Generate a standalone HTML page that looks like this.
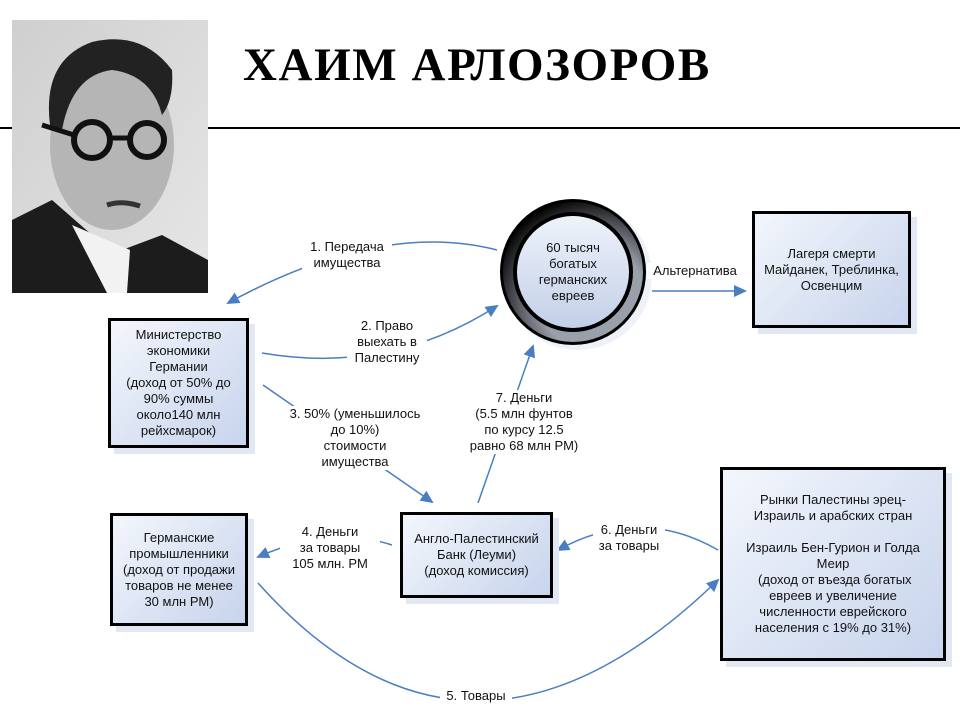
<!DOCTYPE html>
<html><head><meta charset="utf-8"><style>
body{margin:0;width:960px;height:720px;background:#fff;position:relative;overflow:hidden;font-family:"Liberation Sans",Arial,sans-serif;}
.t{position:absolute;font-size:13px;line-height:16px;text-align:center;color:#111;background:#fff;}
.box{position:absolute;border:3px solid #000;background:linear-gradient(135deg,#f3f6fc 0%,#c7d4ec 100%);box-shadow:6px 6px 0 #e1e8f3;display:flex;align-items:center;justify-content:center;text-align:center;font-size:13px;line-height:16px;color:#111;box-sizing:border-box;}
h1{position:absolute;left:243px;top:38px;margin:0;font-family:"Liberation Serif",serif;font-weight:bold;font-size:47px;letter-spacing:1.6px;}
</style></head><body>
<div style="position:absolute;left:0;top:127px;width:960px;height:2px;background:#000"></div>
<svg style="position:absolute;left:12px;top:20px" width="196" height="273" viewBox="0 0 196 273">
<defs><linearGradient id="bg" x1="0" y1="0" x2="1" y2="1"><stop offset="0" stop-color="#cfcfcf"/><stop offset="1" stop-color="#e6e6e6"/></linearGradient></defs>
<rect width="196" height="273" fill="url(#bg)"/>
<path d="M0,200 L40,180 L80,215 L110,230 L150,215 L196,240 L196,273 L0,273Z" fill="#1c1c1c"/>
<path d="M60,205 L95,273 L115,273 L118,230Z" fill="#f2f2f2"/>
<ellipse cx="100" cy="125" rx="62" ry="85" fill="#b5b5b5"/>
<path d="M38,105 Q30,40 80,22 Q130,10 160,50 Q162,80 150,95 Q140,55 100,50 Q60,55 50,110Z" fill="#222"/>
<circle cx="80" cy="120" r="18" fill="none" stroke="#111" stroke-width="6"/>
<circle cx="135" cy="120" r="17" fill="none" stroke="#111" stroke-width="6"/>
<path d="M97,118 L118,118 M62,115 L30,105" stroke="#111" stroke-width="5"/>
<path d="M95,185 Q110,180 128,186" stroke="#333" stroke-width="5" fill="none"/>
</svg>
<h1>ХАИМ АРЛОЗОРОВ</h1>
<svg style="position:absolute;left:0;top:0" width="960" height="720">
<defs>
<marker id="a" markerWidth="13" markerHeight="12" refX="11" refY="6" orient="auto" markerUnits="userSpaceOnUse" viewBox="0 0 13 12"><path d="M0,0 L13,6 L0,12Z" fill="#4a7ec2"/></marker>
<radialGradient id="ring" cx="0.65" cy="0.7" r="0.75"><stop offset="0.5" stop-color="#9aa0aa"/><stop offset="1" stop-color="#000"/></radialGradient>
<linearGradient id="inner" x1="0" y1="0" x2="0" y2="1"><stop offset="0" stop-color="#eef2fa"/><stop offset="1" stop-color="#c3d0e8"/></linearGradient>
</defs>
<g stroke="#4a7ec2" stroke-width="1.5" fill="none">
<path d="M497,250 Q380,220 228,303" marker-end="url(#a)"/>
<path d="M262,353 Q390,375 497,306" marker-end="url(#a)"/>
<path d="M263,385 L432,502" marker-end="url(#a)"/>
<path d="M478,503 L533,346" marker-end="url(#a)"/>
<path d="M652,291 L745,291" marker-end="url(#a)"/>
<path d="M392,545 Q330,525 258,557" marker-end="url(#a)"/>
<path d="M718,550 Q640,505 558,550" marker-end="url(#a)"/>
<path d="M258,583 Q470,820 718,580" marker-end="url(#a)"/>
</g>
<circle cx="578" cy="276" r="74" fill="#eef2f8"/>
<circle cx="573" cy="272" r="73" fill="#000"/>
<circle cx="573" cy="272" r="70" fill="url(#ring)"/>
<circle cx="573" cy="272" r="60" fill="#000"/>
<circle cx="573" cy="272" r="56" fill="url(#inner)"/>
</svg>
<div class="t" style="left:520px;top:240px;width:106px;background:none;">60 тысяч<br>богатых<br>германских<br>евреев</div>
<div class="t" style="left:302px;top:239px;width:90px">1. Передача<br>имущества</div>
<div class="t" style="left:347px;top:318px;width:80px">2. Право<br>выехать в<br>Палестину</div>
<div class="t" style="left:280px;top:406px;width:150px">3. 50% (уменьшилось<br>до 10%)<br>стоимости<br>имущества</div>
<div class="t" style="left:458px;top:390px;width:132px">7. Деньги<br>(5.5 млн фунтов<br>по курсу 12.5<br>равно 68 млн РМ)</div>
<div class="t" style="left:647px;top:263px;width:96px">Альтернатива</div>
<div class="t" style="left:280px;top:524px;width:100px">4. Деньги<br>за товары<br>105 млн. РМ</div>
<div class="t" style="left:593px;top:522px;width:72px">6. Деньги<br>за товары</div>
<div class="t" style="left:440px;top:688px;width:72px">5. Товары</div>
<div class="box" style="left:108px;top:318px;width:141px;height:130px;">Министерство<br>экономики<br>Германии<br>(доход от 50% до<br>90% суммы<br>около140 млн<br>рейхсмарок)</div>
<div class="box" style="left:752px;top:211px;width:159px;height:117px;">Лагеря смерти<br>Майданек, Треблинка,<br>Освенцим</div>
<div class="box" style="left:110px;top:513px;width:138px;height:113px;">Германские<br>промышленники<br>(доход от продажи<br>товаров не менее<br>30 млн РМ)</div>
<div class="box" style="left:400px;top:512px;width:153px;height:86px;">Англо-Палестинский<br>Банк (Леуми)<br>(доход комиссия)</div>
<div class="box" style="left:720px;top:467px;width:226px;height:194px;">Рынки Палестины эрец-<br>Израиль и арабских стран<br><br>Израиль Бен-Гурион и Голда<br>Меир<br>&nbsp;(доход от въезда богатых<br>евреев и увеличение<br>численности еврейского<br>населения с 19% до 31%)</div>
</body></html>
